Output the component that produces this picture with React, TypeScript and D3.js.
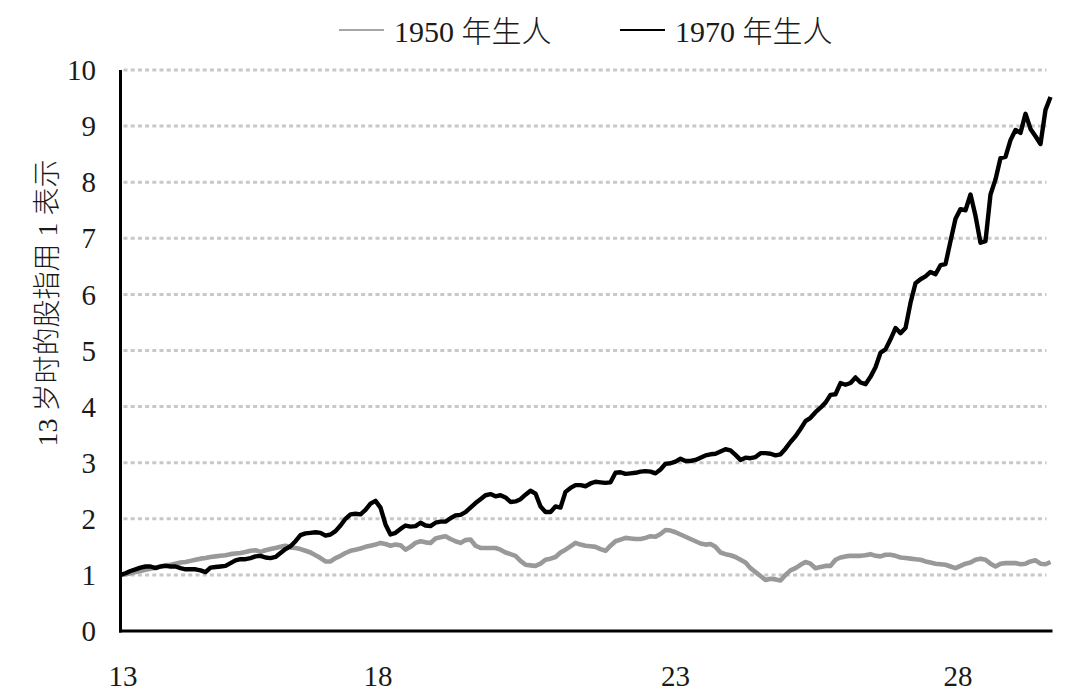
import * as React from "react";
import * as d3 from "d3";

// monthly-ish samples, starting at age 13 (index = sample)
const born1950 = [
  1.0, 1.01, 1.03, 1.05, 1.07, 1.09, 1.11, 1.13, 1.15, 1.17,
  1.18, 1.2, 1.22, 1.23, 1.25, 1.27, 1.29, 1.3, 1.32, 1.33,
  1.34, 1.35, 1.37, 1.38, 1.39, 1.41, 1.43, 1.44, 1.41, 1.44,
  1.46, 1.48, 1.5, 1.52, 1.49, 1.48, 1.46, 1.43, 1.4, 1.35,
  1.3, 1.24, 1.24, 1.3, 1.34, 1.39, 1.43, 1.45, 1.47, 1.5,
  1.52, 1.54, 1.57, 1.55, 1.52, 1.54, 1.53, 1.45, 1.5, 1.57,
  1.6, 1.58, 1.57, 1.65, 1.67, 1.69, 1.64, 1.6, 1.57, 1.62,
  1.63, 1.52, 1.48, 1.48, 1.48, 1.48, 1.45, 1.4, 1.37, 1.34,
  1.25, 1.18, 1.17, 1.16, 1.2, 1.27, 1.29, 1.32, 1.4, 1.45,
  1.51, 1.57, 1.54, 1.52, 1.51, 1.5, 1.46, 1.43, 1.52, 1.6,
  1.63, 1.66, 1.65, 1.64, 1.64, 1.66, 1.69, 1.68, 1.73, 1.8,
  1.79, 1.76, 1.72, 1.68, 1.64, 1.6, 1.56, 1.54, 1.55, 1.5,
  1.4, 1.37, 1.35, 1.32, 1.27, 1.22, 1.12, 1.05, 0.98, 0.91,
  0.93, 0.92, 0.9, 1.0, 1.08, 1.12, 1.18, 1.23, 1.2, 1.12,
  1.14, 1.16, 1.16, 1.27, 1.31, 1.33, 1.34, 1.34, 1.34, 1.35,
  1.37, 1.34, 1.33, 1.36, 1.36, 1.34, 1.31, 1.3, 1.29, 1.28,
  1.27, 1.24, 1.22, 1.2, 1.19, 1.18, 1.15, 1.12, 1.16, 1.2,
  1.22, 1.27, 1.29, 1.27, 1.2, 1.15, 1.2, 1.21, 1.21, 1.21,
  1.19, 1.2, 1.24, 1.26, 1.2, 1.19, 1.23,
];

const born1970 = [
  1.0, 1.03, 1.07, 1.1, 1.13, 1.15, 1.15, 1.12, 1.15, 1.16,
  1.15, 1.15, 1.12, 1.1, 1.1, 1.1, 1.08, 1.05, 1.13, 1.14,
  1.15, 1.16, 1.21, 1.26, 1.28, 1.28, 1.3, 1.33, 1.34, 1.31,
  1.3, 1.32, 1.39, 1.46, 1.51, 1.6, 1.71, 1.74, 1.75, 1.76,
  1.75, 1.7, 1.72, 1.78, 1.88, 2.0, 2.08, 2.09, 2.08, 2.16,
  2.27, 2.32, 2.2, 1.9, 1.72, 1.75, 1.82, 1.88, 1.86, 1.87,
  1.93, 1.88, 1.87, 1.93, 1.95, 1.95, 2.01, 2.06, 2.07, 2.12,
  2.2, 2.28, 2.35, 2.42, 2.44, 2.4, 2.42, 2.38, 2.3, 2.31,
  2.35, 2.43, 2.5, 2.45, 2.22, 2.12, 2.12, 2.22, 2.2, 2.48,
  2.55, 2.6, 2.6, 2.58, 2.63, 2.66, 2.65, 2.64, 2.65, 2.82,
  2.83, 2.8, 2.81, 2.82, 2.84, 2.85, 2.84, 2.81, 2.88, 2.98,
  2.99, 3.02, 3.07, 3.03, 3.03, 3.05, 3.09, 3.13, 3.15, 3.16,
  3.2, 3.24, 3.22, 3.14, 3.05, 3.09, 3.08, 3.1, 3.17, 3.17,
  3.16, 3.13, 3.15, 3.25, 3.37, 3.47, 3.6, 3.74, 3.8, 3.9,
  3.98, 4.07, 4.21, 4.22, 4.42, 4.39, 4.42, 4.52, 4.43, 4.4,
  4.53, 4.7, 4.96, 5.02, 5.2, 5.4, 5.31, 5.4, 5.85, 6.2,
  6.27, 6.32, 6.4, 6.36, 6.52, 6.54, 6.95, 7.35, 7.52, 7.5,
  7.78, 7.4, 6.92, 6.95, 7.78, 8.05, 8.43, 8.45, 8.75, 8.93,
  8.88, 9.22, 8.95, 8.82, 8.68, 9.29, 9.52,
];

const xTickLabels = ["13", "18", "23", "28"];
const xTickAt = [0.5, 51.5, 111, 167.5];
const yTicks = [0, 1, 2, 3, 4, 5, 6, 7, 8, 9, 10];

const seriesNames = ["1950 年生人", "1970 年生人"];
const seriesColors = ["#999999", "#000000"];

const W = 1080;
const H = 699;
const margin = { left: 120.5, top: 70, right: 29.5, bottom: 68 };
const font = "'Liberation Serif', 'Noto Sans CJK SC', serif";

export default function App() {
  const x = d3.scaleLinear().domain([0, born1950.length - 1]).range([margin.left, W - margin.right]);
  const y = d3.scaleLinear().domain([0, 10]).range([H - margin.bottom, margin.top]);

  const line = d3.line<number>()
    .x((d, i) => x(i))
    .y(d => y(d))
    .curve(d3.curveLinear);

  const x0 = margin.left;
  const x1 = W - margin.right;
  const y0 = y(0);

  return (
    <svg width={W} height={H} style={{ position: "absolute", left: 0, top: 0, background: "#fff" }} fontFamily={font}>
      {/* gridlines */}
      {yTicks.filter(t => t > 0).map(t => (
        <line key={"g" + t} x1={x0 + 3} x2={x1 - 4} y1={y(t)} y2={y(t)}
          stroke="#c8c8c8" strokeWidth={3} strokeDasharray="4 3.2" />
      ))}

      <path d={line(born1950) || ""} fill="none" stroke={seriesColors[0]} strokeWidth={4.6} strokeLinejoin="round" />
      <path d={line(born1970) || ""} fill="none" stroke={seriesColors[1]} strokeWidth={4.4} strokeLinejoin="round" />

      {/* axes */}
      <line x1={x0} x2={x0} y1={y(10)} y2={y0 + 1.5} stroke="#000" strokeWidth={3} />
      <line x1={x0 - 1.5} x2={x1 + 2} y1={y0} y2={y0} stroke="#000" strokeWidth={3} />

      {yTicks.map(t => (
        <text key={"y" + t} x={96} y={y(t)} dy="0.35em" textAnchor="end" fontSize={29} fill="#1a1a1a">{t}</text>
      ))}
      {xTickLabels.map((lab, i) => (
        <text key={"x" + lab} x={x(xTickAt[i])} y={686} textAnchor="middle" fontSize={29} fill="#1a1a1a">{lab}</text>
      ))}

      <text transform={`translate(57, 303) rotate(-90)`} textAnchor="middle" fontSize={28} fontWeight={300} fill="#1a1a1a">
        13 岁时的股指用 1 表示
      </text>

      {/* legend */}
      {seriesNames.map((name, i) => {
        const lx = i === 0 ? 339 : 620;
        return (
          <g key={name}>
            <line x1={lx} x2={lx + 45} y1={30} y2={30} stroke={i === 0 ? "#a6a6a6" : "#000"} strokeWidth={2} />
            <text x={lx + 55} y={42} fontSize={30} fontWeight={300} fill="#1a1a1a">{name}</text>
          </g>
        );
      })}
    </svg>
  );
}
